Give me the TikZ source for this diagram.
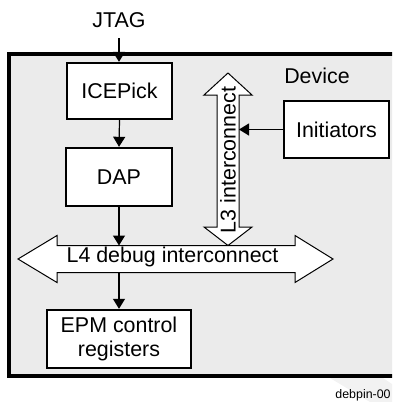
\documentclass[tikz,border=0pt]{standalone}
\usepackage{fontspec}
\setmainfont{Liberation Sans}
\usetikzlibrary{arrows.meta}

\begin{document}
\begin{tikzpicture}[x=0.5pt,y=-0.5pt,
    font=\fontsize{10.7}{12.4}\selectfont,
    blok/.style={draw,line width=1.2pt,fill=white,inner sep=0pt,align=center},
    conn/.style={line width=0.6pt,-{Triangle[length=5pt,width=6pt]}},
    bus/.style={draw,line width=0.5pt,fill=white,line join=miter}]
    
    % Batas gambar
    \clip (0,0) rectangle (392,402);
    
    % Bayangan samar di kanan bawah
    \fill[black!5] (330,378)--(383,378)--(392,384)--(392,402)--(370,402)--cycle;
    
    % Gambar kotak device
    \draw[line width=1.75pt,fill=black!8] (9,54) rectangle (410,376);
    \node (devlabel) at (317,76) {Device};
    
    % Gambar panah besar L4 (mendatar) dan L3 (tegak)
    \draw[bus] (18,259)--(57,235.5)--(57,245.5)--(295,245.5)--(295,235.5)--(333,259)
        --(295,282.5)--(295,272.5)--(57,272.5)--(57,282.5)--cycle;
    \node[anchor=base,inner sep=0pt] (l4text) at (172.5,262.5) {L4 debug interconnect};
    \draw[bus] (228,73)--(252,95)--(239,95)--(239,227)--(252,227)--(228,245.5)
        --(204,227)--(217,227)--(217,95)--(204,95)--cycle;
    \node[rotate=90,inner sep=0pt] (l3text) at (228,160) {L3 interconnect};
    \coordinate (l4top) at (0,245.5);
    \coordinate (l4bot) at (0,272.5);
    \coordinate (l3right) at (239,0);
    
    % Gambar kotak-kotak
    \node[anchor=base,inner sep=0pt] (jtag) at (119,27.5) {JTAG};
    \node[blok,minimum width=52.5pt,minimum height=28pt] (icepick) at (119.5,91) {ICEPick};
    \node[blok,minimum width=53pt,minimum height=29pt] (dap) at (119,177) {DAP};
    \node[blok,minimum width=72pt,minimum height=29pt] (epm) at (119,339) {EPM control\\registers};
    \node[blok,minimum width=52.5pt,minimum height=28.5pt] (init) at (336.5,129.5) {Initiators};
    
    % Gambar panah penghubung
    \draw[conn,shorten <=5pt] (jtag.south)--(jtag.south |- icepick.north);
    \draw[conn] (icepick.south)--(dap.north);
    \draw[conn] (dap.south)--(dap.south |- l4top);
    \draw[conn] (epm.north |- l4bot)--(epm.north);
    \draw[conn] (init.west)--(init.west -| l3right);
    
    % Kode gambar
    \node[anchor=base east,inner sep=0pt,font=\fontsize{6.2}{7}\selectfont] (code) at (391,398) {debpin-00};
    
\end{tikzpicture}
\end{document}
